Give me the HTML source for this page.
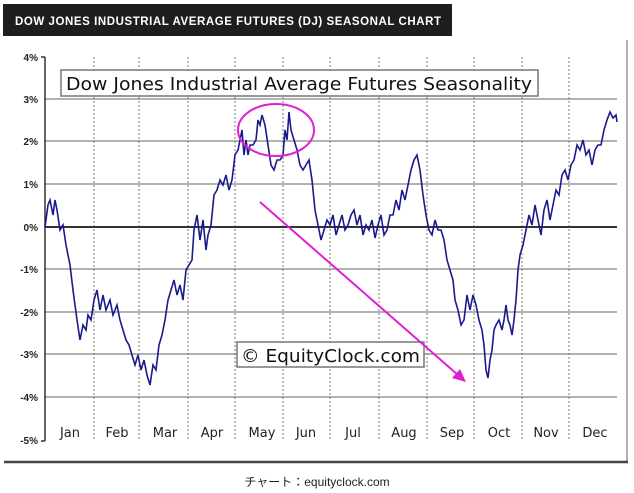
<!DOCTYPE html>
<html><head><meta charset="utf-8"><style>
html,body{margin:0;padding:0;background:#fff;width:634px;height:493px;overflow:hidden}
</style></head><body>
<svg width="634" height="493" xmlns="http://www.w3.org/2000/svg" style="display:block">
<rect x="3" y="4" width="449" height="32" fill="#1e1e1e"/>
<text x="15" y="25" font-family="Liberation Sans, sans-serif" font-size="11.5" font-weight="bold" fill="#fff" textLength="426">DOW JONES INDUSTRIAL AVERAGE FUTURES (DJ) SEASONAL CHART</text>
<line x1="627" y1="40" x2="627" y2="462" stroke="#999" stroke-width="1.5"/>
<line x1="4" y1="462" x2="628" y2="462" stroke="#444" stroke-width="2.5"/>
<g stroke="#999" stroke-width="1.5">
<line x1="45" y1="99" x2="617" y2="99"/><line x1="45" y1="141" x2="617" y2="141"/>
<line x1="45" y1="184" x2="617" y2="184"/><line x1="45" y1="269" x2="617" y2="269"/>
<line x1="45" y1="312" x2="617" y2="312"/><line x1="45" y1="354" x2="617" y2="354"/>
<line x1="45" y1="397" x2="617" y2="397"/>
</g>
<g stroke="#777" stroke-width="1" stroke-dasharray="2,2">
<line x1="94" y1="57" x2="94" y2="441"/><line x1="139" y1="57" x2="139" y2="441"/>
<line x1="188" y1="57" x2="188" y2="441"/><line x1="235" y1="57" x2="235" y2="441"/>
<line x1="283" y1="57" x2="283" y2="441"/><line x1="330" y1="57" x2="330" y2="441"/>
<line x1="379" y1="57" x2="379" y2="441"/><line x1="427" y1="57" x2="427" y2="441"/>
<line x1="474" y1="57" x2="474" y2="441"/><line x1="522" y1="57" x2="522" y2="441"/>
<line x1="569" y1="57" x2="569" y2="441"/>
</g>
<line x1="45" y1="227" x2="617" y2="227" stroke="#333" stroke-width="2"/>
<line x1="45" y1="57" x2="45" y2="441" stroke="#333" stroke-width="1.5"/>
<g stroke="#333" stroke-width="1.5">
<line x1="41" y1="57" x2="45" y2="57"/><line x1="41" y1="441" x2="45" y2="441"/>
</g>
<g font-family="Liberation Sans, sans-serif" font-size="10" font-weight="bold" fill="#222" text-anchor="end">
<text x="38" y="61">4%</text><text x="38" y="103">3%</text><text x="38" y="145">2%</text>
<text x="38" y="188">1%</text><text x="38" y="231">0%</text><text x="38" y="273">-1%</text>
<text x="38" y="316">-2%</text><text x="38" y="358">-3%</text><text x="38" y="401">-4%</text>
<text x="38" y="444">-5%</text>
</g>
<g font-family="DejaVu Sans, sans-serif" font-size="13" fill="#222" text-anchor="middle">
<text x="70" y="437">Jan</text><text x="117" y="437">Feb</text><text x="165" y="437">Mar</text>
<text x="212" y="437">Apr</text><text x="262" y="437">May</text><text x="306" y="437">Jun</text>
<text x="353" y="437">Jul</text><text x="404" y="437">Aug</text><text x="452" y="437">Sep</text>
<text x="499" y="437">Oct</text><text x="546" y="437">Nov</text><text x="595" y="437">Dec</text>
</g>
<polyline fill="none" stroke="#1a1a8c" stroke-width="1.6" points="45,227 48,205 50,200 53,215 55,200 57,210 60,230 63,225 66,245 70,265 73,290 77,320 80,340 83,325 86,330 88,315 91,320 94,300 97,290 100,310 103,295 106,310 110,300 113,315 117,305 120,320 123,330 126,340 129,345 132,355 135,365 138,355 141,370 144,360 147,375 150,385 153,365 156,370 159,345 162,335 165,320 168,300 171,290 174,280 177,295 180,285 183,300 186,270 189,265 192,260 194,230 197,215 200,240 203,220 206,250 208,235 211,225 214,195 217,190 220,180 223,185 226,175 229,190 232,180 235,155 238,150 240,140 242,130 244,155 246,140 248,155 250,145 253,145 256,140 258,120 260,125 262,115 265,125 268,145 271,165 274,170 277,160 280,160 283,155 285,130 287,140 289,112 291,130 294,140 297,150 300,165 303,170 306,165 309,160 312,180 315,210 318,225 321,240 324,230 327,220 330,225 333,215 336,235 339,225 342,215 345,230 348,225 351,215 354,210 357,225 360,215 363,235 366,225 369,230 372,220 375,238 378,225 381,215 384,235 387,230 390,215 393,215 396,200 399,210 402,190 405,200 408,185 411,170 414,160 417,155 420,170 423,195 426,215 429,230 432,235 435,220 438,230 441,230 444,240 447,260 450,270 453,280 455,300 458,310 461,325 464,320 467,295 470,310 473,295 476,305 479,320 482,330 484,345 486,370 488,378 490,360 492,350 494,330 496,325 499,320 502,330 504,320 506,305 508,320 510,325 512,335 514,320 516,300 518,270 520,255 523,245 526,230 529,215 532,225 535,205 538,220 541,235 544,210 547,200 550,220 553,205 556,190 559,195 562,175 565,170 568,180 571,165 574,160 577,145 580,150 583,140 586,155 589,150 592,165 595,150 598,145 601,145 604,130 607,120 610,112 613,118 616,115 617,122"/>
<rect x="61" y="70" width="477" height="26" fill="#fff" stroke="#777" stroke-width="1.5"/>
<text x="66" y="90" font-family="DejaVu Sans, sans-serif" font-size="18" fill="#111" textLength="466" lengthAdjust="spacingAndGlyphs">Dow Jones Industrial Average Futures Seasonality</text>
<rect x="237" y="342" width="187" height="25" fill="#fff" stroke="#777" stroke-width="1.5"/>
<text x="241" y="362" font-family="DejaVu Sans, sans-serif" font-size="18" fill="#111" textLength="179" lengthAdjust="spacingAndGlyphs">© EquityClock.com</text>
<ellipse cx="276" cy="130" rx="38" ry="26" fill="none" stroke="#e020d0" stroke-width="2"/>
<line x1="260" y1="202" x2="458" y2="375" stroke="#e020d0" stroke-width="2"/>
<polygon points="466,382 452,378 460,369" fill="#e020d0"/>
<text x="317" y="486" font-family="Liberation Sans, 'Noto Sans CJK JP', sans-serif" font-size="12" fill="#222" text-anchor="middle">チャート：equityclock.com</text>
</svg>
</body></html>
